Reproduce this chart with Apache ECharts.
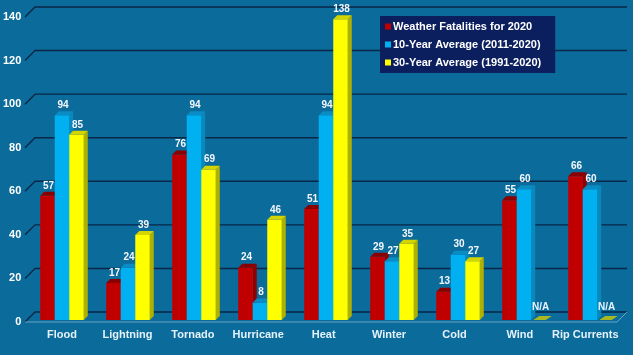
<!DOCTYPE html>
<html>
<head>
<meta charset="utf-8">
<script src="https://cdn.jsdelivr.net/npm/echarts@6/dist/echarts.min.js"></script>
<style>
html,body{margin:0;padding:0;background:#0b6b9a;}
#c{width:633px;height:355px;}
</style>
</head>
<body>
<div id="c"></div>
<script>
var categories = ['Flood','Lightning','Tornado','Hurricane','Heat','Winter','Cold','Wind','Rip Currents'];
var fatalities2020 = [57,17,76,24,51,29,13,55,66];
var avg10yr = [94,24,94,8,94,27,30,60,60];
var avg30yr = [85,39,69,46,138,35,27,null,null];
var yTicks = [0,20,40,60,80,100,120,140];
var seriesNames = ['Weather Fatalities for 2020','10-Year Average (2011-2020)','30-Year Average (1991-2020)'];

var chart = echarts.init(document.getElementById('c'));

var faces = [
  {front:'#c00000', top:'#8a0000', side:'#930000'},
  {front:'#00b0f0', top:'#0a8cc4', side:'#0a88bc'},
  {front:'#ffff00', top:'#d4d400', side:'#b0b000'}
];
var DX = 4, DY = 4;

function barRender(k){
  return function(params, api){
    var i = api.value(0);
    var v = api.value(1);
    var base = api.coord([i, 0]);
    var band = api.size([1, 0])[0];
    var bw = band * 0.22;
    var x0 = base[0] - bw * 1.5 + k * bw;
    var x1 = x0 + bw;
    var f = faces[k];
    var children = [];
    if (v == null || isNaN(v)) {
      var y = base[1];
      children.push({type:'polygon', shape:{points:[[x0+2,y],[x1,y],[x1+DX+2,y-DY],[x0+DX+4,y-DY]]}, style:{fill:'#a8b820'}});
      children.push({type:'text', style:{text:'N/A', x:(x0+x1)/2+2, y:y-DY-4, textAlign:'center', textVerticalAlign:'bottom', fill:'#e8f4ff', font:'bold 10px Arial'}});
      return {type:'group', children:children};
    }
    var top = api.coord([i, v])[1];
    var by = base[1];
    children.push({type:'polygon', shape:{points:[[x1,by],[x1+DX,by-DY],[x1+DX,top-DY],[x1,top]]}, style:{fill:f.side}});
    children.push({type:'rect', shape:{x:x0, y:top, width:bw, height:by-top}, style:{fill:f.front}});
    children.push({type:'polygon', shape:{points:[[x0,top],[x1,top],[x1+DX,top-DY],[x0+DX,top-DY]]}, style:{fill:f.top}});
    children.push({type:'text', style:{text:String(v), x:(x0+x1)/2+1, y:top-DY-1, textAlign:'center', textVerticalAlign:'bottom', fill:'#f4f8ff', font:'bold 10px Arial'}});
    return {type:'group', children:children};
  };
}

function toData(arr){ return arr.map(function(v, i){ return [i, v == null ? '-' : v]; }); }

function wallRender(params, api){
  var v = api.value(0);
  var p0 = api.coord([0, v]);
  var p1 = api.coord([1, v]);
  var children = [];
  children.push({type:'polyline', shape:{points:[[p0[0]-10,p0[1]+10],[p0[0],p0[1]],[p1[0],p1[1]]]}, style:{stroke:'#0a2748', lineWidth:1.4, fill:null}});
  if (v === 0) {
    children.push({type:'polyline', shape:{points:[[p0[0]-10,p0[1]+10],[p1[0]-10,p1[1]+10],[p1[0],p1[1]]]}, style:{stroke:'#7fb3d3', lineWidth:1, fill:null, opacity:0.8}});
  }
  return {type:'group', children:children};
}

var option = {
  backgroundColor: '#0b6b9a',
  animation: false,
  legend: {
    orient: 'vertical',
    left: 380, top: 16,
    backgroundColor: '#0b1f5e',
    padding: [5, 14, 5, 5],
    itemWidth: 6, itemHeight: 6, itemGap: 7,
    icon: 'rect',
    textStyle: {color:'#ffffff', fontFamily:'Arial', fontWeight:'bold', fontSize:11, padding:[0,0,0,-3]},
    data: seriesNames
  },
  grid: [
    {left: 29, top: 15, width: 594, height: 305},
    {left: 24, top: 17, width: 594, height: 305},
    {left: 35, top: 7, width: 592, height: 305}
  ],
  xAxis: [
    {type:'category', gridIndex:0, data:categories, show:false},
    {type:'category', gridIndex:1, data:categories, axisLine:{show:false}, axisTick:{show:false},
      axisLabel:{color:'#e6f2fb', fontFamily:'Arial', fontWeight:'bold', fontSize:11, margin:7, interval:0}},
    {type:'value', gridIndex:2, min:0, max:1, show:false}
  ],
  yAxis: [
    {type:'value', gridIndex:0, min:0, max:140, interval:20, show:false},
    {type:'value', gridIndex:1, min:0, max:140, interval:20, axisLine:{show:false}, axisTick:{show:false}, splitLine:{show:false},
      axisLabel:{color:'#ffffff', fontFamily:'Arial', fontWeight:'bold', fontSize:11, margin:8}},
    {type:'value', gridIndex:2, min:0, max:140, interval:20, show:false}
  ],
  series: [
    {type:'custom', xAxisIndex:2, yAxisIndex:2, silent:true, renderItem:wallRender,
      data: yTicks.map(function(t){ return [t]; }), encode:{y:0}, z:1},
    {type:'custom', name:seriesNames[0], xAxisIndex:0, yAxisIndex:0, renderItem:barRender(0), itemStyle:{color:'#c00000'}, data:toData(fatalities2020), encode:{x:0,y:1}, z:2},
    {type:'custom', name:seriesNames[1], xAxisIndex:0, yAxisIndex:0, renderItem:barRender(1), itemStyle:{color:'#00b0f0'}, data:toData(avg10yr), encode:{x:0,y:1}, z:3},
    {type:'custom', name:seriesNames[2], xAxisIndex:0, yAxisIndex:0, renderItem:barRender(2), itemStyle:{color:'#ffff00'}, data:toData(avg30yr), encode:{x:0,y:1}, z:4}
  ]
};
chart.setOption(option);
</script>
</body>
</html>
